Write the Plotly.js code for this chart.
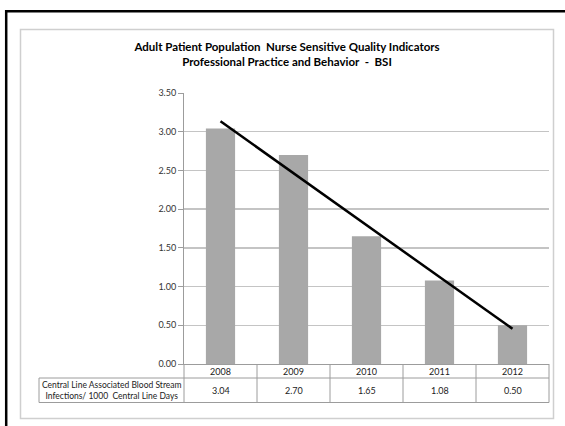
<!DOCTYPE html>
<html>
<head>
<meta charset="utf-8">
<script src="https://cdn.plot.ly/plotly-3.0.1.min.js"></script>
<style>
  html, body { margin: 0; padding: 0; background: #fff; }
  #chart { width: 565px; height: 426px; }
</style>
</head>
<body>
<div id="chart"></div>
<script>
// Central line associated blood stream infections per 1000 central line days
const years = ['2008', '2009', '2010', '2011', '2012'];
const bsiRates = [3.04, 2.70, 1.65, 1.08, 0.50];
const rowLabel = ['Central Line Associated Blood Stream', 'Infections/ 1000  Central Line Days'];
const titleLines = ['Adult Patient Population  Nurse Sensitive Quality Indicators',
                    'Professional Practice and Behavior  -  BSI'];
const yTicks = [0, 0.5, 1, 1.5, 2, 2.5, 3, 3.5];

// Least-squares linear trend over the category index
function linearTrend(vals) {
  const n = vals.length;
  const xs = vals.map((_, i) => i + 1);
  const mx = xs.reduce((a, b) => a + b, 0) / n;
  const my = vals.reduce((a, b) => a + b, 0) / n;
  let sxy = 0, sxx = 0;
  xs.forEach((x, i) => { sxy += (x - mx) * (vals[i] - my); sxx += (x - mx) * (x - mx); });
  const slope = sxy / sxx;
  return xs.map(x => my + slope * (x - mx));
}
const trend = linearTrend(bsiRates);

// Plot-area geometry in pixels
const W = 565, H = 426;
const M = { l: 184, r: 16, t: 93, b: 62 };
const PW = W - M.l - M.r, PH = H - M.t - M.b;
const px = x => (x - M.l) / PW;          // pixel -> paper x
const py = y => (M.t + PH - y) / PH;     // pixel -> paper y

const FONT = 'Lato, "Liberation Sans", sans-serif';
const tableLine = { color: '#9c9c9c', width: 1 };
const n = years.length;
const colEdge = k => k / n;              // category boundaries in paper x
const colMid = i => (i + 0.5) / n;       // category centres in paper x

const rowTop = 0, rowMid = py(378), rowBot = py(402.5), labelLeft = px(39);

const shapes = [
  // outer black frame
  { type: 'rect', xref: 'paper', yref: 'paper', x0: px(6.2), x1: px(590), y0: py(450), y1: py(11.2),
    line: { color: '#000', width: 2.5 } },
  // chart area frame
  { type: 'rect', xref: 'paper', yref: 'paper', x0: px(20.5), x1: px(553.5), y0: py(418.5), y1: py(29.5),
    line: { color: '#cfcfcf', width: 1.5 } },
  // table horizontals
  { type: 'line', xref: 'paper', yref: 'paper', x0: labelLeft, x1: 1, y0: rowMid, y1: rowMid, line: tableLine },
  { type: 'line', xref: 'paper', yref: 'paper', x0: labelLeft, x1: 1, y0: rowBot, y1: rowBot, line: tableLine },
  // label column left edge
  { type: 'line', xref: 'paper', yref: 'paper', x0: labelLeft, x1: labelLeft, y0: rowMid, y1: rowBot, line: tableLine }
];
for (let k = 0; k <= n; k++) {
  shapes.push({ type: 'line', xref: 'paper', yref: 'paper', x0: colEdge(k), x1: colEdge(k),
                y0: rowTop, y1: rowBot, line: tableLine });
}

const cellFont = { family: FONT, size: 9, color: '#222' };
const annotations = [];
years.forEach((yr, i) => {
  annotations.push({ x: colMid(i), xref: 'paper', y: (rowTop + rowMid) / 2, yref: 'paper',
                     xanchor: 'center', yanchor: 'middle', text: yr,
                     showarrow: false, font: cellFont });
  annotations.push({ x: colMid(i), xref: 'paper', y: (rowMid + rowBot) / 2, yref: 'paper',
                     xanchor: 'center', yanchor: 'middle', text: bsiRates[i].toFixed(2),
                     showarrow: false, font: cellFont });
});
annotations.push({ x: labelLeft / 2, xref: 'paper', y: (rowMid + rowBot) / 2, yref: 'paper',
                   xanchor: 'center', yanchor: 'middle',
                   text: rowLabel.join('<br>'), showarrow: false, align: 'center',
                   font: { family: FONT, size: 8.5, color: '#222' } });

const data = [
  { type: 'bar', x: years, y: bsiRates, marker: { color: '#a8a8a8' },
    hoverinfo: 'x+y', showlegend: false },
  { type: 'scatter', mode: 'lines', x: years, y: trend,
    line: { color: '#000', width: 2.5 }, hoverinfo: 'skip', showlegend: false }
];

const layout = {
  width: W, height: H,
  margin: M,
  paper_bgcolor: '#fff', plot_bgcolor: '#fff',
  font: { family: FONT, size: 9, color: '#333' },
  bargap: 0.6,
  title: {
    text: '<b>' + titleLines.join('<br>') + '</b>',
    xref: 'container', x: 287 / W, xanchor: 'center',
    yref: 'container', y: 1 - 51 / H, yanchor: 'top',
    font: { family: FONT, size: 11.5, color: '#000' }
  },
  xaxis: {
    type: 'category', range: [-0.5, n - 0.5],
    showticklabels: false, ticks: '', showgrid: false, zeroline: false,
    showline: true, linecolor: '#9c9c9c', linewidth: 1
  },
  yaxis: {
    range: [0, 3.5], tickvals: yTicks, tickformat: '.2f',
    ticks: 'outside', ticklen: 5, tickcolor: '#9c9c9c', tickwidth: 1,
    showline: true, linecolor: '#9c9c9c', linewidth: 1,
    showgrid: true, gridcolor: '#c4c4c4', gridwidth: 1.5, zeroline: false,
    tickfont: { family: FONT, size: 9, color: '#333' }
  },
  shapes: shapes,
  annotations: annotations
};

Plotly.newPlot('chart', data, layout, { displayModeBar: false, staticPlot: true });
</script>
</body>
</html>
